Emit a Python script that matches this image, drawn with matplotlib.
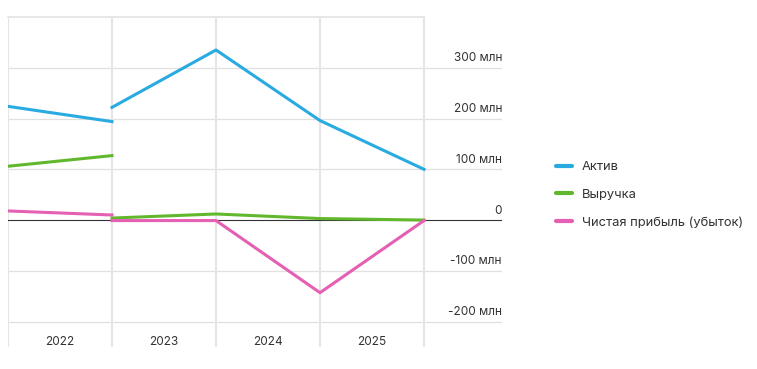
import matplotlib.pyplot as plt
from matplotlib.lines import Line2D

plt.rcParams['font.family'] = ['Inter', 'DejaVu Sans']

# data (млн)
years = ['2022', '2023', '2024', '2025']
# first part: start/end of 2022
pos_a = [0, 1]
asset_a = [224, 194]
revenue_a = [106, 127]
profit_a = [18, 10]
# second part
pos_b = [1, 2, 3, 4]
asset_b = [222, 335, 196, 100]
revenue_b = [4, 12, 3, 0]
profit_b = [-1, -1, -143, -1]

y_ticks = [-200, -100, 0, 100, 200, 300]
y_labels = ['-200 млн', '-100 млн', '0', '100 млн', '200 млн', '300 млн']
series_names = ['Актив', 'Выручка', 'Чистая прибыль (убыток)']
colors = ['#29abe2', '#62b82c', '#e55fb3']

fig = plt.figure(figsize=(7.57, 3.69), dpi=100)
ax = fig.add_axes([8 / 757, 1 - 347 / 369, (502 - 8) / 757, (347 - 17) / 369])
ax.set_xlim(0, 4.75)
ax.set_ylim(-250, 400)
ax.axis('off')

# grid
for v in y_ticks:
    if v == 0:
        continue
    ax.axhline(v, color='#e0e0e0', lw=0.9, zorder=0)
ax.plot([0, 4], [400, 400], color='#e3e3e3', lw=1.2, zorder=0, clip_on=False)
for i in range(len(years) + 1):
    ax.axvline(i, color='#e6e6e6', lw=1.5, zorder=0)
ax.axhline(0, color='#333333', lw=0.8, zorder=1)

# lines
for ya, yb, c in zip([asset_a, revenue_a, profit_a], [asset_b, revenue_b, profit_b], colors):
    ax.plot(pos_a, ya, color=c, lw=2.2, zorder=3)
    ax.plot(pos_b, yb, color=c, lw=2.2, zorder=3)

# y labels on the right
for v, lab in zip(y_ticks, y_labels):
    ax.annotate(lab, (4.75, v), xytext=(0, 2.5), textcoords='offset points',
                ha='right', va='bottom', fontsize=8.5, color='#333333')

# x labels
for i, y in enumerate(years):
    ax.text(i + 0.5, -240, y, ha='center', va='center', fontsize=8.5, color='#333333')

handles = [Line2D([0], [0], color=c, lw=3, solid_capstyle='round') for c in colors]
fig.legend(handles, series_names, loc='center left', bbox_to_anchor=(544 / 757, 1 - 195 / 369),
           frameon=False, fontsize=9.3, handlelength=1.3, handletextpad=0.75,
           labelspacing=1.2, labelcolor='#333333')

fig.savefig('out.png', dpi=100)
